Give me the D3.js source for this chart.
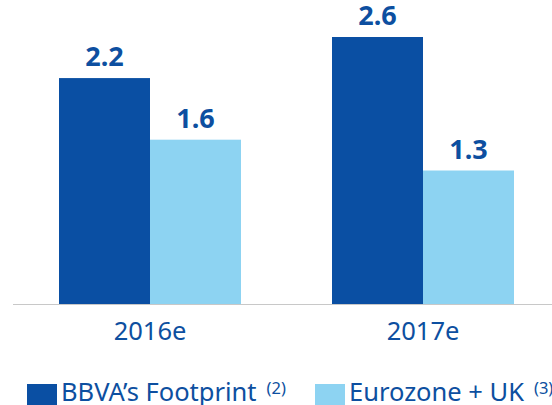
<!DOCTYPE html>
<meta charset="utf-8">
<style>
body { margin: 0; background: #fff; }
text { font-family: "Noto Sans", "Open Sans", sans-serif; fill: #0d4fa0; }
.val { font-size: 27px; font-weight: bold; text-anchor: middle; }
.cat { font-size: 25.5px; text-anchor: middle; }
.leg { font-size: 25.5px; }
</style>
<svg width="552" height="405"></svg>
<script src="https://d3js.org/d3.v7.min.js"></script>
<script>

var years = ["2016e", "2017e"];
var series = ["BBVA\u2019s Footprint", "Eurozone + UK"];
var notes = ["(2)", "(3)"];
var footprint = [2.2, 2.6];
var eurozone = [1.6, 1.3];

var colors = ["#0a4fa3", "#8dd3f2"];

var svg = d3.select("svg");

var x0 = d3.scaleBand().domain(years).range([59, 514]).paddingInner(1 / 3).paddingOuter(0);
var x1 = d3.scaleBand().domain(series).range([0, x0.bandwidth()]);
var y = d3.scaleLinear().domain([0, 2.6]).range([304, 37]);

var data = years.map(function(yr, i) {
  return { year: yr, values: [footprint[i], eurozone[i]] };
});

var g = svg.selectAll(".grp")
  .data(data)
  .enter().append("g")
    .attr("transform", function(d) { return "translate(" + x0(d.year) + ",0)"; });

g.selectAll("rect")
  .data(function(d) { return d.values; })
  .enter().append("rect")
    .attr("x", function(d, i) { return x1(series[i]); })
    .attr("width", x1.bandwidth())
    .attr("y", function(d) { return y(d); })
    .attr("height", function(d) { return y(0) - y(d); })
    .attr("fill", function(d, i) { return colors[i]; });

g.selectAll(".val")
  .data(function(d) { return d.values; })
  .enter().append("text")
    .attr("class", "val")
    .attr("x", function(d, i) { return x1(series[i]) + x1.bandwidth() / 2; })
    .attr("y", function(d) { return y(d) - 12; })
    .text(function(d) { return d.toFixed(1); });

// baseline
svg.append("line")
  .attr("x1", 13).attr("x2", 552)
  .attr("y1", y(0) + 0.5).attr("y2", y(0) + 0.5)
  .attr("stroke", "#c8c8c8").attr("stroke-width", 1);

g.append("text")
  .attr("class", "cat")
  .attr("x", x0.bandwidth() / 2)
  .attr("y", 340)
  .text(function(d) { return d.year; });

// legend
var legX = [27, 315];
var leg = svg.selectAll(".legend")
  .data(series)
  .enter().append("g")
    .attr("transform", function(d, i) { return "translate(" + legX[i] + ",384)"; });

leg.append("rect")
  .attr("width", 30).attr("height", 21)
  .attr("fill", function(d, i) { return colors[i]; });

var lt = leg.append("text")
  .attr("class", "leg")
  .attr("x", 34)
  .attr("y", 17);
lt.append("tspan").text(function(d) { return d; });
lt.append("tspan")
  .attr("font-size", "16.5px")
  .attr("dx", 10)
  .attr("dy", -7)
  .text(function(d, i) { return notes[i]; });

</script>
